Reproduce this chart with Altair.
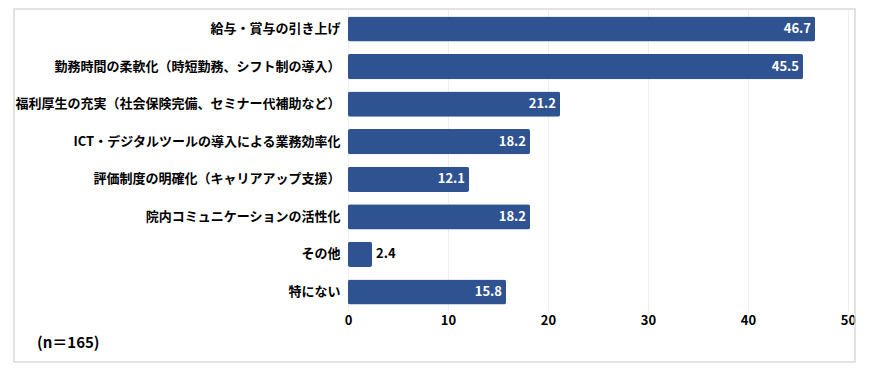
import altair as alt
import pandas as pd

categories = [
    "給与・賞与の引き上げ",
    "勤務時間の柔軟化（時短勤務、シフト制の導入）",
    "福利厚生の充実（社会保険完備、セミナー代補助など）",
    "ICT・デジタルツールの導入による業務効率化",
    "評価制度の明確化（キャリアアップ支援）",
    "院内コミュニケーションの活性化",
    "その他",
    "特にない",
]
values = [46.7, 45.5, 21.2, 18.2, 12.1, 18.2, 2.4, 15.8]
x_ticks = [0, 10, 20, 30, 40, 50]
note = "(n＝165)"

FONT = "Noto Sans CJK JP"
BAR = "#2f5290"

df = pd.DataFrame({"cat": categories, "val": values})
df["inside"] = df["val"] >= 5
df["label"] = df["val"].map(lambda v: f"{v:.1f}")

y_enc = alt.Y("cat:N", sort=categories, title=None,
              scale=alt.Scale(paddingInner=0.33, paddingOuter=0.17),
              axis=alt.Axis(domain=False, ticks=False, labelPadding=8,
                            labelFontSize=13, labelFontWeight="bold",
                            labelColor="#000000", labelFont=FONT, labelLimit=400))
x_enc = alt.X("val:Q", title=None,
              scale=alt.Scale(domain=[0, 50], nice=False),
              axis=alt.Axis(values=x_ticks, domain=False, ticks=False, labelPadding=3,
                            labelFlush=False,
                            labelFontSize=13, labelFontWeight="bold", labelColor="#000000",
                            labelFont=FONT, grid=True, gridColor="#eeeeee", gridWidth=1))

base = alt.Chart(df)
bars = base.mark_bar(color=BAR, cornerRadius=2).encode(x=x_enc, y=y_enc)

lab_in = base.transform_filter("datum.inside").mark_text(
    align="right", baseline="middle", dx=-4, color="white",
    font=FONT, fontWeight="bold", fontSize=13
).encode(x="val:Q", y=alt.Y("cat:N", sort=categories), text="label:N")

lab_out = base.transform_filter("!datum.inside").mark_text(
    align="left", baseline="middle", dx=4, color="#000000",
    font=FONT, fontWeight="bold", fontSize=13
).encode(x="val:Q", y=alt.Y("cat:N", sort=categories), text="label:N")

frame = alt.Chart(pd.DataFrame({"a": [0]})).mark_rect(
    fill=None, stroke="#d9d9d9", strokeWidth=1.5
).encode(x=alt.value(-334), x2=alt.value(507), y=alt.value(-1), y2=alt.value(352))

note_t = alt.Chart(pd.DataFrame({"t": [note]})).mark_text(
    align="left", baseline="middle", font=FONT, fontWeight="bold",
    fontSize=15, color="#000000"
).encode(x=alt.value(-311), y=alt.value(333), text="t:N")

chart = alt.layer(frame, bars, lab_in, lab_out, note_t).properties(
    width=500, height=301,
    autosize=alt.AutoSizeParams(type="none"),
    padding={"left": 340, "top": 2, "right": 15, "bottom": 52},
    background="white",
).configure_view(stroke=None)

chart.save("out.html", embed_options={"renderer": "svg", "actions": False})
